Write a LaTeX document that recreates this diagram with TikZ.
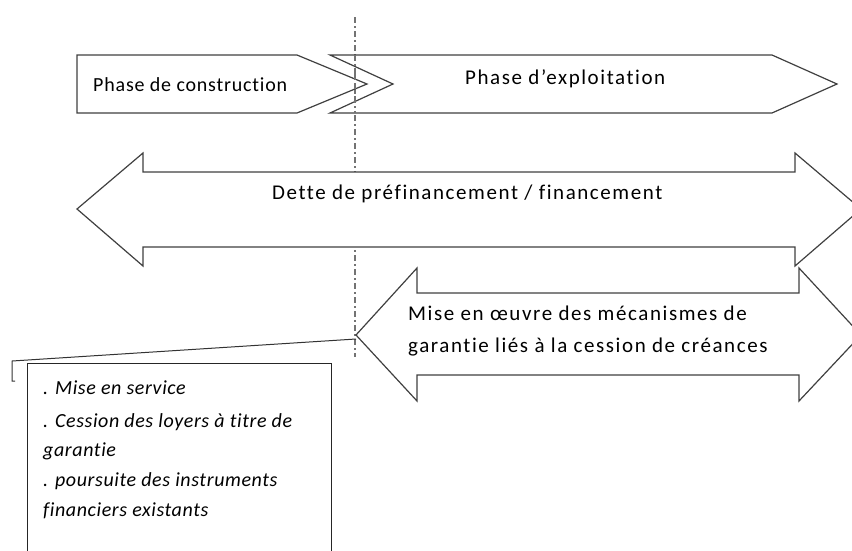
\documentclass[tikz,border=0pt]{standalone}
\usepackage{fontspec}
\setmainfont{Carlito}[Ligatures=NoCommon]
\newfontfamily\wideA{Carlito}[Ligatures=NoCommon,LetterSpace=7.5]
\newfontfamily\wideB{Carlito}[Ligatures=NoCommon,LetterSpace=4]
\newfontfamily\wideC{Carlito}[Ligatures=NoCommon,LetterSpace=3]
\begin{document}
\begin{tikzpicture}[x=1pt,y=-1pt,
  shapeline/.style={draw=black!75,line width=1.2pt,fill=white,line join=miter},
  guide/.style={draw=black!55,line width=1.5pt,dash pattern=on 6pt off 3pt on 2pt off 3pt},
  lbl/.style={font=\wideA\fontsize{21}{25}\selectfont,inner sep=0pt,anchor=base west},
  lblsmall/.style={font=\wideB\fontsize{20}{24}\selectfont,inner sep=0pt,anchor=base west},
  note/.style={font=\wideC\fontsize{20}{24}\selectfont\itshape,inner sep=0pt,anchor=base west}]
\useasboundingbox (0,0) rectangle (852,550);
\begin{scope}
\clip (0,0) rectangle (852,550);
% guide line
\draw[guide] (355,17) -- (355,357);
% phase arrows
\path[shapeline] (77,55) -- (297,55) -- (367,84) -- (297,113) -- (77,113) -- cycle;
\path[shapeline] (330,55) -- (772,55) -- (837,84) -- (772,113) -- (330,113) -- (393,84) -- cycle;
\draw[guide] (355,55) -- (355,113);
% big double arrow
\path[shapeline] (77,209) -- (143,153) -- (143,172) -- (795,172) -- (795,153) -- (861,209)
  -- (795,266) -- (795,247) -- (143,247) -- (143,266) -- cycle;
% lower double arrow
\path[shapeline] (356,335) -- (417,268) -- (417,293) -- (799,293) -- (799,268) -- (861,335)
  -- (799,401) -- (799,375) -- (417,375) -- (417,401) -- cycle;
% callout box
\path[shapeline,line width=1pt,draw=black!85] (27,363) -- (331,363) -- (331,560) -- (27,560) -- cycle;
\end{scope}
\coordinate (ctip) at (356,339);
\coordinate (cend) at (12,361);
\draw[black!80,line width=1pt] (ctip) -- (cend) -- (12,381) -- (15,381);
% texts
\node[lblsmall] (tcons) at (93,91) {Phase de construction};
\node[lbl] (texpl) at (465,84) {Phase d’exploitation};
\node[lbl] (tdette) at (272,199) {Dette de préfinancement / financement};
\node[lbl] (tmise1) at (408,320) {Mise en œuvre des mécanismes de};
\node[lbl] (tmise2) at (408,352) {garantie liés à la cession de créances};
\node[note] (n1) at (43,394) {. Mise en service};
\node[note] (n2) at (43,427) {. Cession des loyers à titre de};
\node[note] (n3) at (43,456) {garantie};
\node[note] (n4) at (43,486) {. poursuite des instruments};
\node[note] (n5) at (43,516) {financiers existants};
\end{tikzpicture}
\end{document}
